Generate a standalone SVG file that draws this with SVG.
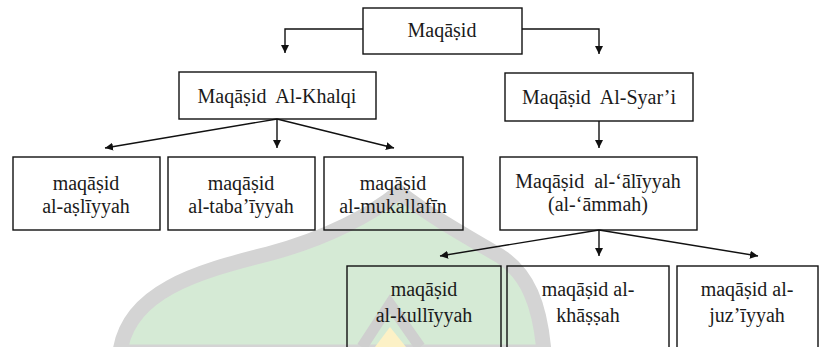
<svg xmlns="http://www.w3.org/2000/svg" width="820" height="347" viewBox="0 0 820 347">
<style>
.box{fill:none;stroke:#111;stroke-width:1.4}
.t{font-family:"Liberation Serif",Tinos,"Times New Roman",Times,"Noto Serif","Nimbus Roman","FreeSerif","DejaVu Serif",serif;font-size:20px;fill:#1a1a1a;text-anchor:middle}
.c{fill:none;stroke:#111;stroke-width:1.4}
.wm{fill:#d5ead5;stroke:#d4d4d4;stroke-width:15}
</style>
<defs>
<marker id="ah" viewBox="0 0 10 10" refX="10" refY="5" markerWidth="8" markerHeight="8" markerUnits="userSpaceOnUse" orient="auto">
<path d="M0,0 L10,5 L0,10 z" fill="#111"/>
</marker>
</defs>
<rect width="820" height="347" fill="#ffffff"/>
<g id="watermark">
<path class="wm" d="M120,352 C128,292 196,272 268,254 C328,238 372,214 399,192 C424,212 462,234 500,256 C528,274 540,305 544,352 Z"/>
<path d="M362,347 L390,304 L420,347" fill="none" stroke="#cfcfcf" stroke-width="11"/>
<path d="M375,347 L390,327 L406,347 Z" fill="#fcf1c6"/>
</g>
<g id="connectors">
<path class="c" d="M363,29 H285 V53" marker-end="url(#ah)"/>
<path class="c" d="M522,29 H599 V54" marker-end="url(#ah)"/>
<path class="c" d="M277,119 V148" marker-end="url(#ah)"/>
<path class="c" d="M277,119 L105,148" marker-end="url(#ah)"/>
<path class="c" d="M277,119 L394,148" marker-end="url(#ah)"/>
<path class="c" d="M599,121 V148" marker-end="url(#ah)"/>
<path class="c" d="M599,230 V256" marker-end="url(#ah)"/>
<path class="c" d="M599,230 L440,256" marker-end="url(#ah)"/>
<path class="c" d="M599,230 L758,256" marker-end="url(#ah)"/>
</g>
<g id="n-maqasid"><rect class="box" x="363" y="8" width="159" height="46"/><text class="t" x="442" y="37">Maqāṣid</text></g>
<g id="n-khalqi"><rect class="box" x="179" y="72" width="197" height="47"/><text class="t" x="277" y="103" xml:space="preserve">Maqāṣid  Al-Khalqi</text></g>
<g id="n-syari"><rect class="box" x="505" y="73" width="188" height="48"/><text class="t" x="599" y="104" xml:space="preserve">Maqāṣid  Al-Syar’i</text></g>
<g id="n-asliyyah"><rect class="box" x="13" y="157" width="147" height="73"/><text class="t" x="86" y="190">maqāṣid</text><text class="t" x="86" y="213">al-aṣlīyyah</text></g>
<g id="n-tabaiyyah"><rect class="box" x="168" y="157" width="147" height="73"/><text class="t" x="241" y="190">maqāṣid</text><text class="t" x="241" y="213">al-taba’īyyah</text></g>
<g id="n-mukallafin"><rect class="box" x="324" y="157" width="139" height="73"/><text class="t" x="393" y="190">maqāṣid</text><text class="t" x="393" y="213">al-mukallafīn</text></g>
<g id="n-aliyyah"><rect class="box" x="500" y="157" width="197" height="73"/><text class="t" x="598" y="188" xml:space="preserve">Maqāṣid  al-‘ālīyyah</text><text class="t" x="598" y="211">(al-‘āmmah)</text></g>
<g id="n-kulliyyah"><rect class="box" x="347" y="266" width="154" height="90"/><text class="t" x="424" y="296">maqāṣid</text><text class="t" x="424" y="322">al-kullīyyah</text></g>
<g id="n-khassah"><rect class="box" x="507" y="266" width="162" height="90"/><text class="t" x="588" y="296">maqāṣid al-</text><text class="t" x="588" y="322">khāṣṣah</text></g>
<g id="n-juziyyah"><rect class="box" x="677" y="266" width="141" height="90"/><text class="t" x="747" y="296">maqāṣid al-</text><text class="t" x="747" y="322">juz’īyyah</text></g>
</svg>
